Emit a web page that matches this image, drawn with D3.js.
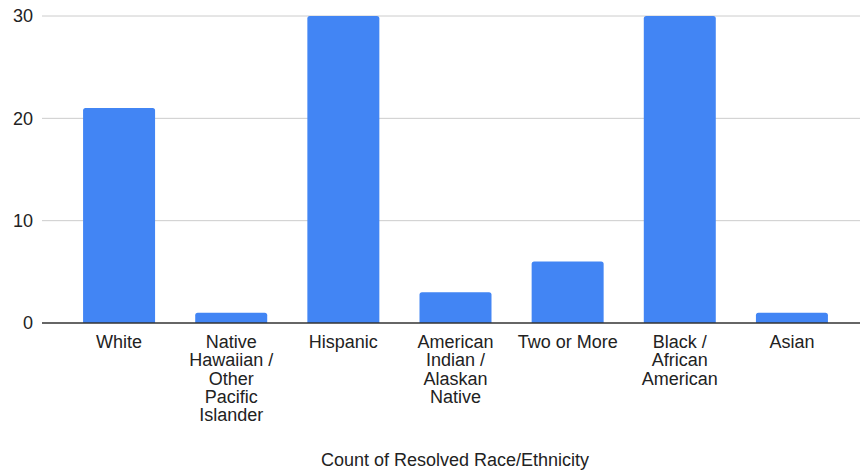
<!DOCTYPE html>
<html>
<head>
<meta charset="utf-8">
<script src="https://cdn.jsdelivr.net/npm/d3@7"></script>
<style>
  body { margin: 0; background: #fff; }
  text { font-family: "Liberation Sans", Arial, sans-serif; fill: #222; }
</style>
</head>
<body>
<div id="chart"></div>
<script>
// data
const categories = ["White", "Native Hawaiian / Other Pacific Islander", "Hispanic",
  "American Indian / Alaskan Native", "Two or More", "Black / African American", "Asian"]
const labelLines = [["White"], ["Native", "Hawaiian /", "Other", "Pacific", "Islander"], ["Hispanic"],
  ["American", "Indian /", "Alaskan", "Native"], ["Two or More"], ["Black /", "African", "American"], ["Asian"]]
const counts = [21, 1, 30, 3, 6, 30, 1]
const yTicks = [0, 10, 20, 30]
const xTitle = "Count of Resolved Race/Ethnicity"

const width = 860
const height = 472
const plot = {left: 42, right: 860, top: 16, bottom: 323}

const svg = d3.select("div#chart").append("svg").attr("width", width).attr("height", height)

const x = d3.scaleBand().domain(categories).range([63, 848]).paddingInner(0.358).paddingOuter(0.179)
const y = d3.scaleLinear().domain([0, 30]).range([plot.bottom, plot.top])

// grid
const gridGroup = svg.append("g").attr("id", "gridGroup")
gridGroup.selectAll("line").data(yTicks.filter(d => d > 0)).enter().append("line")
  .attr("x1", plot.left).attr("x2", plot.right)
  .attr("y1", d => y(d)).attr("y2", d => y(d))
  .attr("stroke", "#cccccc").attr("stroke-width", 1)

// y labels
const yAxis = d3.axisLeft(y).tickValues(yTicks).tickSize(0).tickPadding(9)
const yAxisGroup = svg.append("g").attr("transform", `translate(${plot.left}, 0)`).call(yAxis)
yAxisGroup.select(".domain").remove()
yAxisGroup.selectAll("text").style("font-size", "18px").attr("fill", "#222")
  .style("font-family", "'Liberation Sans', Arial, sans-serif")

// bars with rounded tops
const r = 2.5
const barPath = function(d, i) {
  const x0 = x(categories[i]), w = x.bandwidth()
  const y0 = y(d), yb = y(0)
  return `M${x0},${yb} V${y0 + r} Q${x0},${y0} ${x0 + r},${y0} H${x0 + w - r} Q${x0 + w},${y0} ${x0 + w},${y0 + r} V${yb} Z`
}
svg.append("g").attr("id", "bars").selectAll("path").data(counts).enter().append("path")
  .attr("d", barPath)
  .attr("fill", "#4285f4")

// baseline
svg.append("line")
  .attr("x1", plot.left).attr("x2", plot.right)
  .attr("y1", y(0)).attr("y2", y(0))
  .attr("stroke", "#333").attr("stroke-width", 1.3)

// category labels
const labelGroup = svg.append("g").attr("id", "labels")
labelLines.forEach((lines, i) => {
  const t = labelGroup.append("text")
    .attr("text-anchor", "middle")
    .attr("x", x(categories[i]) + x.bandwidth() / 2)
    .attr("y", 348)
    .style("font-size", "18px")
  lines.forEach((l, j) => {
    t.append("tspan").attr("x", x(categories[i]) + x.bandwidth() / 2)
      .attr("y", 348 + j * 18.3).text(l)
  })
})

// title
svg.append("text")
  .text(xTitle)
  .attr("x", 455).attr("y", 466)
  .attr("text-anchor", "middle")
  .style("font-size", "18px")
</script>
</body>
</html>
